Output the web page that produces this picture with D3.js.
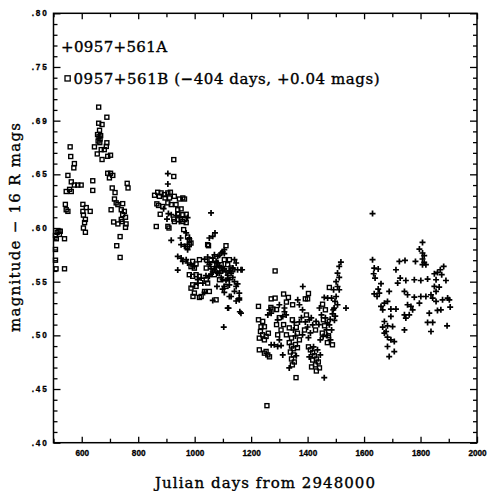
<!DOCTYPE html>
<html><head><meta charset="utf-8">
<script src="https://cdn.jsdelivr.net/npm/d3@7"></script>
<style>body{margin:0;background:#fff}svg{display:block}</style>
</head><body><svg id="c" width="489" height="491"></svg>
<script>
// ---- tick values / labels ----
const xMajorTicks = [600,800,1000,1200,1400,1600,1800,2000];
const xMinorTicks = [500,700,900,1100,1300,1500,1700,1900];
const yMajorTicks = [0.40,0.45,0.50,0.55,0.60,0.65,0.70,0.75,0.80];
const yTickLabels = [".40",".45",".50",".55",".60",".65",".69",".75",".80"];
const yMinorTicks = d3.range(41,80).filter(v=>v%5!==0).map(v=>v/100);
const seriesNames = ["0957+561A","0957+561B (\u2212404 days, +0.04 mags)"];

// ---- 0957+561B (squares), already shifted ----
const seriesB = [
[507,.593],[513,.596],[519,.597],[524,.597],[521,.594],[510,.590],[539,.590],
[507,.580],[507,.570],[509,.562],[539,.562],
[542,.622],[545,.617],[551,.6155],[557,.636],[545,.634],[563,.634],[551,.649],[563,.643],[574,.640],[586,.640],[598,.640],[559,.6756],[561,.6666],[574,.660],[572,.656],[639,.644],[639,.635],[604,.622],[616,.619],[604,.6155],[630,.6155],[606,.612],[613,.608],[610,.605],[606,.600],[613,.596],
[660,.7126],[689,.7032],[660,.6976],[672,.6964],[663,.691],[656,.687],[661,.685],[665,.683],[658,.681],[664,.6795],[667,.686],[689,.6794],[687,.676],[680,.673],[669,.673],[645,.6756],[655,.669],[692,.6668],[702,.6678],[672,.6638],[692,.651],[702,.651],[710,.649],[698,.6467],[761,.6416],[764,.6373],[708,.6373],[718,.633],[716,.627],[722,.6234],[728,.6218],[745,.6227],[704,.617],[740,.617],[751,.6155],[745,.6124],[755,.610],[740,.608],[713,.6056],[728,.6038],[743,.606],[757,.6038],[755,.6006],[736,.592],[724,.5835],[736,.5726],
[926,.6637],[926,.648],[858,.6305],[869,.6333],[881,.6327],[893,.6311],[905,.6327],[914,.6333],[875,.6295],[895,.628],[911,.628],[928,.6295],[946,.627],[958,.628],[964,.627],[866,.6225],[872,.621],[887,.620],[905,.6234],[917,.6218],[934,.6218],[940,.617],[952,.6178],[878,.6128],[926,.6083],[940,.6128],[958,.6124],[970,.6128],[964,.6078],[864,.6014],[905,.6015],[909,.600],[928,.606],[958,.606],[970,.605],[961,.5985],[975,.5916],
[981,.5891],[987,.586],[981,.5845],[1046,.5845],[1049,.5835],[1111,.5835],[975,.583],[1017,.5705],[993,.5689],[1005,.5665],[987,.564],[999,.5626],[981,.5565],[993,.555],[1005,.5565],[1017,.555],[1041,.5518],[1046,.5487],[993,.5471],[1005,.5456],[987,.544],[999,.5394],[994,.5362],[1023,.5362],[1035,.5409],[1052,.5409],[1076,.5331],[1017,.5353],[1111,.5456],[1135,.5611],[1129,.5627],[1058,.5705],[1082,.5611],[1094,.5658],[1105,.5705],[1070,.5565],[1088,.5518],[1117,.5658],[1123,.5705],[1041,.5627],[1064,.5658],
[1285,.560],[1403,.539],[1392,.534],[1400,.534],[1315,.5385],[1332,.5353],[1271,.534],[1285,.5347],[1226,.527],[1347,.5285],[1453,.529],[1477,.5446],[1226,.5145],[1241,.513],[1247,.508],[1235,.508],[1233,.5036],[1241,.5005],[1229,.4974],[1261,.502],[1253,.499],[1247,.4958],[1229,.4865],[1247,.4834],[1259,.4818],[1265,.480],[1253,.485],[1359,.4606],[1256,.4345],
[1290,.524],[1300,.5165],[1290,.510],[1306,.505],[1294,.5005],[1315,.510],[1325,.5005],[1335,.507],[1346,.5145],[1360,.5075],[1364,.502],[1343,.4975],[1335,.4932],[1343,.490],[1350,.4875],[1357,.4915],[1364,.4885],[1339,.4845],[1350,.4818],[1343,.478],[1353,.4752],[1346,.4725],[1428,.505],[1389,.505],[1371,.4958],[1396,.519],[1403,.4893],[1410,.4865],[1418,.4838],[1424,.481],[1431,.478],[1418,.477],[1438,.4752],[1428,.4725],[1442,.4697],[1431,.4668],[1414,.4706],[1456,.5145],[1460,.5089],[1452,.5021],[1474,.4996],[1488,.4912],[1470,.4932],[1463,.5238],[1325,.531],[1270,.526],[1277,.5245]
];

// ---- 0957+561A (crosses) ----
const seriesA = [
[905,.6507],[905,.641],[917,.5885],[950,.5907],[1058,.614],[1052,.5907],[1064,.5922],[1072,.5954],[907,.6134],[917,.6124],[902,.6083],[946,.6097],[975,.6097],[946,.606],[970,.5954],[981,.5898],[890,.618],[935,.6115],
[952,.5845],[964,.583],[975,.5798],[1105,.5798],[1094,.5767],[1082,.5735],[1070,.5751],[1064,.572],[1046,.573],[1035,.571],[940,.5735],[952,.572],[958,.5689],[970,.5705],[975,.5674],[987,.5658],[999,.5642],[940,.5608],[1141,.5705],[1147,.5674],[1135,.5627],[1152,.5611],[1164,.5611],[1168,.5611],[1011,.552],[1023,.5534],[1040,.5556],[1052,.555],[1011,.5487],[1029,.5487],[1035,.540],[1064,.5325],[1079,.5456],[1105,.5456],[1129,.5362],[1158,.5394],[1158,.5331],[1147,.5456],[1120,.5254],[1164,.5207],[1160,.522],[1103,.5077],[1099,.5778],[1105,.5762],[1088,.5745],[1076,.5690],[1082,.5675],[1088,.5650],[1094,.5630],[1099,.5600],[1105,.5620],[1111,.5590],[1117,.5560],[1123,.5600],[1076,.5640],[1070,.5610],[1064,.5590],[1058,.5620],[1052,.5660],[1046,.5680],[1058,.5570],[1082,.5580],[1094,.5540],[1111,.5510],[1117,.5530],[1129,.5580],[1099,.5520],[1088,.5580],[1123,.5520],[1135,.5540],[1141,.5500],[1152,.5480],[1123,.5470],[1099,.5430],[1105,.5400],[1147,.5320],[1141,.5410],[1123,.5362],[1158,.5347],[1117,.5254],
[1383,.5455],[1365,.5331],[1265,.5238],[1271,.5207],[1259,.519],[1318,.522],[1312,.5175],[1324,.519],[1294,.5145],[1300,.4958],[1271,.4912],[1282,.4912],[1294,.4896],[1306,.4905],[1312,.4818],[1353,.512],[1350,.505],[1357,.4995],[1371,.5125],[1378,.5165],[1335,.4697],[1360,.481],[1371,.5285],[1382,.5238],[1392,.5125],[1400,.5078],[1406,.5145],[1413,.5163],[1418,.5098],[1410,.5023],[1403,.4978],[1382,.5005],[1421,.4893],[1435,.4865],[1445,.4818],[1406,.4799],[1459,.4606],[1449,.519],[1463,.5163],[1470,.5117],[1477,.5098],[1467,.5051],[1485,.5051],[1481,.4958],[1445,.4958],[1498,.518],[1491,.5238],[1442,.5255],[1300,.5285],[1318,.5255],
[1518,.5683],[1512,.5642],[1506,.558],[1512,.554],[1501,.550],[1506,.5455],[1492,.5425],[1512,.5425],[1501,.5362],[1485,.5347],[1471,.5347],[1459,.5353],[1497,.5316],[1506,.5285],[1494,.5254],[1536,.5254],[1488,.5200],[1495,.5140],[1480,.5150],[1470,.5000],[1455,.4990],[1440,.5100],[1430,.5130],
[1630,.6134],[1807,.5866],[1796,.5804],[1807,.5767],[1813,.5742],[1807,.5711],[1813,.5679],[1807,.5658],[1819,.5658],[1630,.5705],[1636,.5627],[1650,.5618],[1634,.5574],[1639,.5534],[1725,.5689],[1745,.5698],[1782,.5689],[1713,.5611],[1882,.5642],[1870,.5611],[1860,.5586],[1849,.5574],[1875,.5565],[1719,.5487],[1728,.5534],[1748,.5511],[1778,.5518],[1801,.5511],[1825,.5524],[1855,.5518],[1890,.5511],[1660,.5481],[1650,.5431],[1636,.5387],[1654,.5394],[1646,.5362],[1689,.5409],[1743,.5409],[1754,.5378],[1778,.5356],[1801,.5362],[1819,.5362],[1837,.5378],[1855,.5409],[1866,.545],[1849,.5456],[1843,.5347],[1855,.5316],[1878,.5331],[1902,.5331],[1896,.5347],[1796,.530],[1683,.5316],[1672,.530],[1660,.5269],[1666,.5238],[1695,.5245],[1713,.5245],[1754,.5285],[1766,.5269],[1772,.5238],[1760,.5191],[1748,.5161],[1743,.5191],[1831,.5207],[1860,.5232],[1872,.5238],[1905,.5263],[1695,.5176],[1672,.5129],[1683,.5089],[1666,.5077],[1701,.5082],[1678,.5036],[1743,.5051],[1825,.512],[1843,.512],[1837,.5036],[1894,.5089],[1672,.5021],[1683,.4983],[1695,.4958],[1707,.4942],[1683,.4896],[1707,.4849],[1689,.4802]
];

const svg = d3.select("#c");
const L=53.5, R=477, T=13.3, B=442.7;
const x = d3.scaleLinear().domain([500,2000]).range([L,R]);
const y = d3.scaleLinear().domain([0.40,0.80]).range([B,T]);

const tickFont = "'Liberation Sans', Arial, sans-serif";
const serif = "'DejaVu Serif', serif";

function styleAxis(g){ g.select(".domain").remove(); g.selectAll("line").attr("stroke","#000").attr("stroke-width",1.3); }
function styleLabels(g){ g.selectAll("text").attr("font-family",tickFont).attr("font-weight","bold").attr("font-size",8.2).attr("fill","#000").attr("stroke","#000").attr("stroke-width",0.3); }

// bottom
svg.append("g").attr("transform",`translate(0,${B})`)
  .call(d3.axisBottom(x).tickValues(xMajorTicks).tickSize(-6).tickPadding(7).tickFormat(d3.format("d")))
  .call(styleAxis).call(styleLabels);
svg.append("g").attr("transform",`translate(0,${B})`)
  .call(d3.axisBottom(x).tickValues(xMinorTicks).tickSize(-4).tickFormat(""))
  .call(styleAxis);
// top
svg.append("g").attr("transform",`translate(0,${T})`)
  .call(d3.axisTop(x).tickValues(xMajorTicks).tickSize(-6).tickFormat(""))
  .call(styleAxis);
svg.append("g").attr("transform",`translate(0,${T})`)
  .call(d3.axisTop(x).tickValues(xMinorTicks).tickSize(-4).tickFormat(""))
  .call(styleAxis);
// left
svg.append("g").attr("transform",`translate(${L},0)`)
  .call(d3.axisLeft(y).tickValues(yMajorTicks).tickSize(-7).tickPadding(5).tickFormat((d,i)=>yTickLabels[i]))
  .call(styleAxis).call(styleLabels)
  .call(g=>g.selectAll("text").attr("letter-spacing","1.8px"));
svg.append("g").attr("transform",`translate(${L},0)`)
  .call(d3.axisLeft(y).tickValues(yMinorTicks).tickSize(-4).tickFormat(""))
  .call(styleAxis);
// right
svg.append("g").attr("transform",`translate(${R},0)`)
  .call(d3.axisRight(y).tickValues(yMajorTicks).tickSize(-7).tickFormat(""))
  .call(styleAxis);
svg.append("g").attr("transform",`translate(${R},0)`)
  .call(d3.axisRight(y).tickValues(yMinorTicks).tickSize(-4).tickFormat(""))
  .call(styleAxis);

// frame
svg.append("rect").attr("x",L).attr("y",T).attr("width",R-L).attr("height",B-T)
  .attr("fill","none").attr("stroke","#000").attr("stroke-width",1.5);

// squares (B)
svg.append("g").selectAll("rect").data(seriesB).join("rect")
  .attr("x",d=>x(d[0])-2).attr("y",d=>y(d[1])-2).attr("width",4).attr("height",4)
  .attr("fill","none").attr("stroke","#000").attr("stroke-width",1.4);
// crosses (A)
svg.append("g").selectAll("path").data(seriesA).join("path")
  .attr("d",d=>`M${x(d[0])-3},${y(d[1])}h6M${x(d[0])},${y(d[1])-3}v6`)
  .attr("stroke","#000").attr("stroke-width",1.7).attr("fill","none");

// legend
const txt = (sel)=>sel.attr("font-family",serif).attr("font-size",15).attr("fill","#000")
  .attr("stroke","#000").attr("stroke-width",0.35).attr("lengthAdjust","spacing");
svg.append("text").attr("x",61).attr("y",51.5).attr("textLength",106).call(txt).text("+"+seriesNames[0]);
svg.append("rect").attr("x",65).attr("y",75.8).attr("width",5.2).attr("height",5.2)
  .attr("fill","none").attr("stroke","#000").attr("stroke-width",1.3);
svg.append("text").attr("x",73.5).attr("y",83.5).attr("textLength",306).call(txt).text(seriesNames[1]);

// axis titles
svg.append("text").attr("x",155).attr("y",488).attr("textLength",220).call(txt).text("Julian days from 2948000");
svg.append("text").attr("transform","translate(19.5,332) rotate(-90)").attr("textLength",209).call(txt)
  .text("magnitude \u2212 16 R mags");
</script></body></html>
